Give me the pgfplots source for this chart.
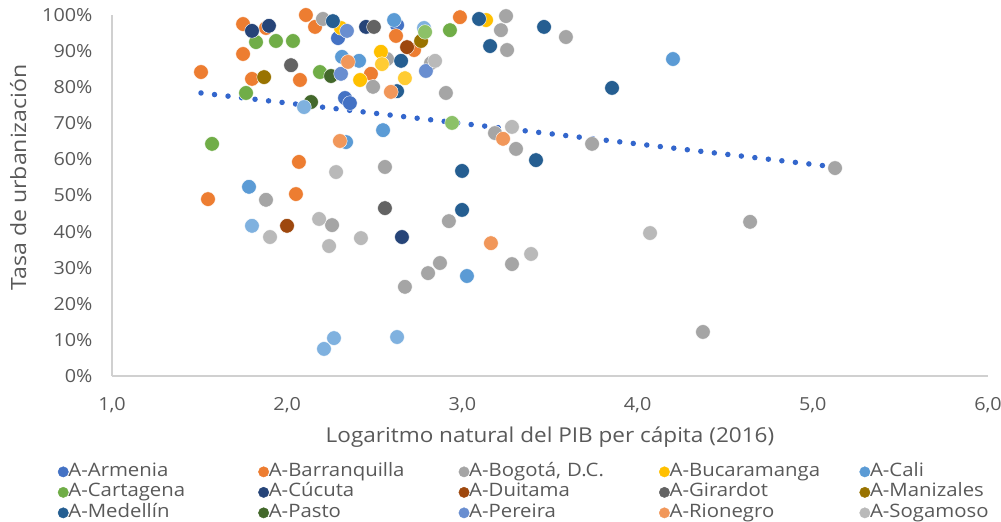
\documentclass[border=0pt]{standalone}
\usepackage{pgfplots}
\pgfplotsset{compat=1.18}
\usepackage{fontspec}
\setmainfont{Open Sans}[FakeStretch=1.1]
\definecolor{cArm}{HTML}{4472C4}
\definecolor{cBar}{HTML}{ED7D31}
\definecolor{cBog}{HTML}{A5A5A5}
\definecolor{cBuc}{HTML}{FFC000}
\definecolor{cCal}{HTML}{5B9BD5}
\definecolor{cCar}{HTML}{70AD47}
\definecolor{cCuc}{HTML}{264478}
\definecolor{cDui}{HTML}{9E480E}
\definecolor{cGir}{HTML}{636363}
\definecolor{cMan}{HTML}{997300}
\definecolor{cMed}{HTML}{255E91}
\definecolor{cPas}{HTML}{43682B}
\definecolor{cPer}{HTML}{698ED0}
\definecolor{cRio}{HTML}{F1975A}
\definecolor{cSog}{HTML}{B9B9B9}
\definecolor{cCalL}{HTML}{7FB1DF}
\definecolor{cCarL}{HTML}{8CC168}
\definecolor{cBucL}{HTML}{FFCC33}
\definecolor{cTrend}{HTML}{3366CC}
\definecolor{cAxis}{HTML}{D0D0D0}
\definecolor{cText}{HTML}{595959}
\pgfplotsset{pt/.style={only marks, mark=*, mark size=7.3bp, color=#1,
  mark options={draw=white, line width=0.4bp, fill=#1}}}
\newcommand\fsA{\fontsize{18bp}{21bp}\selectfont}
\newcommand\fsL{\fontsize{18.5bp}{22bp}\selectfont}
\newcommand\fsB{\fontsize{20.5bp}{24bp}\selectfont}
\newcommand\fsY{\fontsize{21bp}{24bp}\selectfont}
\begin{document}
\begin{tikzpicture}
\useasboundingbox (-112bp,-146bp) rectangle (889bp,376bp);
\begin{axis}[
  at={(0,0)}, anchor=south west,
  scale only axis, width=876bp, height=361bp,
  xmin=1, xmax=6, ymin=0, ymax=100,
  axis x line*=bottom, axis y line*=left,
  axis line style={-, draw=cAxis, line width=1.3bp},
  major tick length=0pt,
  xtick={1,2,3,4,5,6},
  xticklabels={{1,0},{2,0},{3,0},{4,0},{5,0},{6,0}},
  ytick={0,10,...,100},
  yticklabels={0\%,10\%,20\%,30\%,40\%,50\%,60\%,70\%,80\%,90\%,100\%},
  xticklabel style={anchor=base, yshift=-34bp, font=\fsA, text=cText},
  yticklabel style={anchor=east, xshift=-16bp, font=\fsA, text=cText},
  xlabel={Logaritmo natural del PIB per cápita (2016)},
  ylabel={Tasa de urbanización},
  xlabel style={at={(axis description cs:0.5,-0.169)}, anchor=center, font=\fsB, text=cText},
  ylabel style={at={(axis description cs:-0.107,0.55)}, anchor=center, font=\fsY, text=cText},
  clip=false,
  legend columns=5,
  legend cell align=left,
  legend image code/.code={\draw[#1] plot coordinates {(0bp,0bp)};},
  legend image post style={mark size=5.2bp, mark options={draw=none}},
  legend style={draw=none, fill=none, inner sep=0pt, outer sep=0pt,
    at={(axis description cs:-0.0616,-0.242)}, anchor=north west,
    font=\fsL, text=cText, row sep=3.5bp,
    nodes={inner sep=0pt, text height=13bp, text depth=4bp, text width=186bp},
    /tikz/every even column/.append style={column sep=4bp}},
]
\addplot[pt=cArm] coordinates {(2.290,93.6) (2.627,97.2) (2.330,77.0) (2.358,75.6)};
\addlegendentry{A-Armenia}
\addplot[pt=cBar] coordinates {(1.748,97.5) (1.879,96.4) (1.748,89.2) (1.508,84.2) (1.799,82.3) (2.073,82.0) (2.107,100.0) (2.159,96.7) (2.621,94.2) (2.724,90.3) (2.478,83.7) (2.986,99.4) (2.067,59.3) (1.548,49.0) (2.050,50.4)};
\addlegendentry{A-Barranquilla}
\addplot[pt=cBog] coordinates {(2.204,98.9) (3.249,99.7) (3.220,95.8) (3.591,93.9) (3.255,90.3) (2.570,87.8) (2.821,86.7) (2.490,80.1) (2.906,78.4) (3.186,67.3) (3.306,62.9) (3.740,64.3) (5.127,57.6) (2.558,57.9) (1.879,48.8) (2.256,41.8) (2.923,42.9) (2.872,31.3) (2.804,28.5) (2.672,24.7) (3.283,31.0) (4.642,42.7) (4.373,12.2)};
\addlegendentry{A-Bogotá, D.C.}
\addplot[pt=cBuc] coordinates {(2.307,96.4) (2.535,89.8) (2.416,82.0) (3.135,98.6)};
\addlegendentry{A-Bucaramanga}
\addplot[pt=cCal] coordinates {(2.610,98.6) (2.313,88.4) (2.410,87.3) (2.336,64.8) (2.547,68.1) (1.782,52.4) (3.026,27.7) (4.202,87.8)};
\addlegendentry{A-Cali}
\addplot[pt=cCar] coordinates {(1.822,92.5) (1.936,92.8) (2.033,92.8) (1.765,78.4) (2.187,84.2) (2.929,95.8) (1.571,64.3)};
\addlegendentry{A-Cartagena}
\addplot[pt=cCuc] coordinates {(1.799,95.6) (1.896,97.0) (2.450,96.7) (2.655,38.5)};
\addlegendentry{A-Cúcuta}
\addplot[pt=cDui] coordinates {(2.684,91.1) (1.999,41.6)};
\addlegendentry{A-Duitama}
\addplot[pt=cGir] coordinates {(2.022,86.1) (2.495,96.7) (2.558,46.5)};
\addlegendentry{A-Girardot}
\addplot[pt=cMan] coordinates {(1.868,82.8) (2.764,92.8)};
\addlegendentry{A-Manizales}
\addplot[pt=cMed] coordinates {(2.261,98.3) (2.650,87.3) (2.627,78.9) (3.095,98.9) (3.466,96.7) (3.158,91.4) (3.854,79.8) (3.420,59.8) (2.998,56.8) (2.998,46.0)};
\addlegendentry{A-Medellín}
\addplot[pt=cPas] coordinates {(2.136,75.9) (2.250,83.1)};
\addlegendentry{A-Pasto}
\addplot[pt=cPer] coordinates {(2.341,95.6) (2.307,83.7) (2.792,84.5)};
\addlegendentry{A-Pereira}
\addplot[pt=cRio] coordinates {(2.347,87.0) (2.592,78.7) (3.232,65.7) (2.301,65.1) (3.163,36.8)};
\addlegendentry{A-Rionegro}
\addplot[pt=cSog] coordinates {(2.844,87.3) (3.283,69.0) (3.392,33.8) (4.071,39.6) (2.279,56.5) (2.182,43.5) (1.902,38.5) (2.239,36.0) (2.421,38.2)};
\addlegendentry{A-Sogamoso}
\addplot[pt=cCalL, forget plot] coordinates {(2.096,74.5) (1.799,41.6) (2.210,7.5) (2.267,10.5) (2.627,10.8) (2.781,96.4)};
\addplot[pt=cBucL, forget plot] coordinates {(2.541,86.4) (2.672,82.5)};
\addplot[pt=cCarL, forget plot] coordinates {(2.787,95.3) (2.941,70.1)};
\addplot[forget plot, cTrend, line width=5.5bp, line cap=round, dash pattern=on 0bp off 13.6bp] coordinates {(1.508,78.4) (5.127,57.9)};
\end{axis}
\end{tikzpicture}
\end{document}
